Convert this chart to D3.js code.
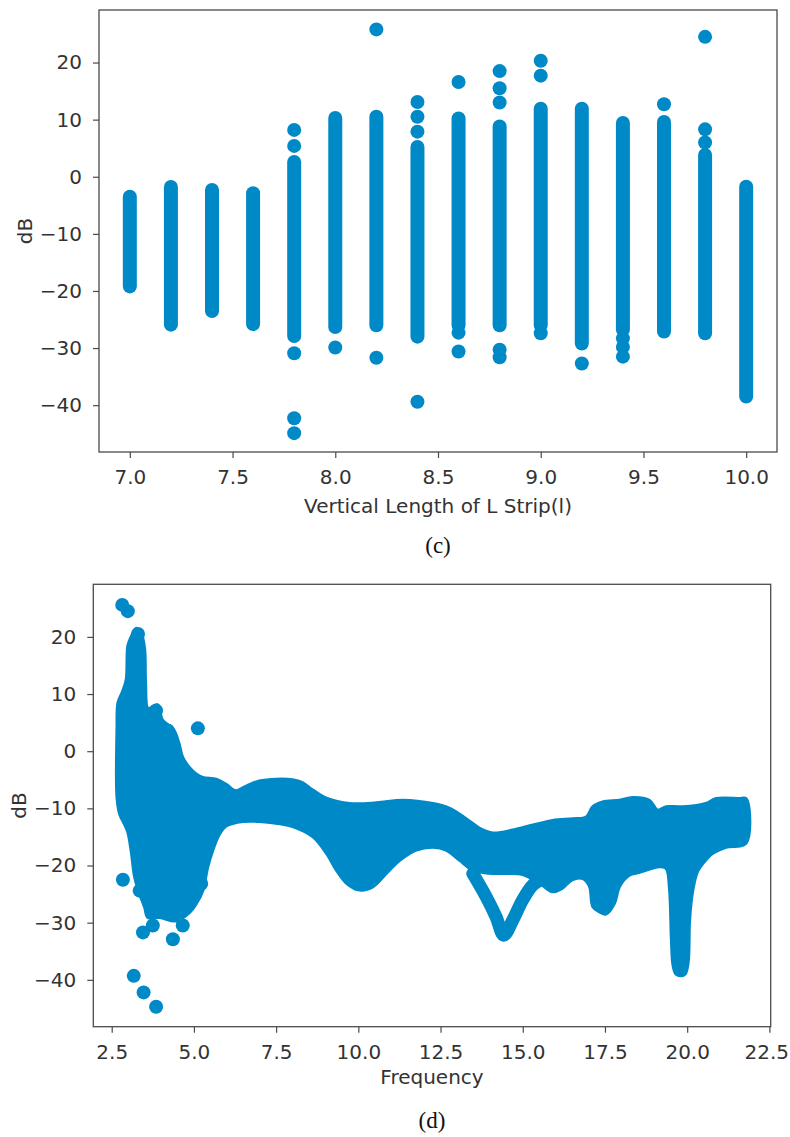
<!DOCTYPE html>
<html><head><meta charset="utf-8">
<script src="https://cdn.jsdelivr.net/npm/d3@7"></script>
<style>
body{margin:0;background:#fff;}
svg text{font-family:"DejaVu Sans",sans-serif;}
</style></head><body>
<svg id="chart" width="790" height="1137"></svg>
<script>
// ---------- (c) scatter: dB vs vertical length ----------
const lengths   = [7.0, 7.2, 7.4, 7.6, 7.8, 8.0, 8.2, 8.4, 8.6, 8.8, 9.0, 9.2, 9.4, 9.6, 9.8, 10.0];
const denseHigh = [-3.5, -1.8, -2.3, -2.9, 2.6, 10.3, 10.5, 5.2, 10.2, 8.8, 11.9, 11.9, 9.4, 9.6, 3.8, -1.75];
const denseLow  = [-19.2, -25.9, -23.5, -25.8, -27.9, -26.3, -26.0, -28.0, -26.0, -26.0, -26.0, -29.2, -26.8, -27.1, -27.4, -38.5];
const outLen = [7.8, 7.8, 7.8, 7.8, 7.8, 8.0, 8.2, 8.2, 8.4, 8.4, 8.4, 8.4, 8.6, 8.6, 8.6, 8.8, 8.8, 8.8, 8.8, 8.8, 9.0, 9.0, 9.0, 9.2, 9.4, 9.4, 9.4, 9.6, 9.8, 9.8, 9.8];
const outDB  = [8.2, 5.4, -30.9, -42.3, -44.9, -29.9, 25.8, -31.7, 13.1, 10.5, 7.9, -39.4, 16.6, -27.3, -30.6, 18.5, 15.5, 13.0, -30.3, -31.6, 20.3, 17.7, -27.4, -32.7, -28.3, -29.8, -31.5, 12.7, 24.5, 8.3, 6.0];
const xTicksC = [7.0, 7.5, 8.0, 8.5, 9.0, 9.5, 10.0];
const yTicks  = [-40, -30, -20, -10, 0, 10, 20];

// ---------- (d) scatter: dB vs frequency (dense cloud envelope + isolated points) ----------
const upF  = [2.66, 2.69, 2.82, 2.94, 2.99, 3.09, 3.25, 3.40, 3.50, 3.53, 3.60, 3.75, 3.90, 4.04, 4.21, 4.38, 4.54, 4.66, 4.87, 5.07, 5.27, 5.68, 5.98, 6.28, 6.59, 6.99, 7.50, 8.00, 8.30, 8.62, 9.03, 9.74, 10.55, 11.36, 12.27, 12.78, 13.28, 13.69, 14.09, 14.70, 15.31, 15.91, 16.52, 16.93, 17.13, 17.43, 17.94, 18.34, 18.85, 19.10, 19.36, 19.86, 20.57, 20.88, 21.58, 21.79];
const upDB = [4.0, 8.5, 10.3, 12.5, 18.5, 20.0, 21.5, 20.5, 18.0, 12.0, 7.5, 7.8, 8.1, 5.5, 4.6, 3.8, 1.5, -1.1, -2.9, -4.0, -4.6, -4.9, -5.8, -6.9, -6.1, -5.2, -4.9, -5.0, -5.5, -6.8, -8.2, -9.15, -9.03, -8.57, -9.15, -10.0, -11.8, -13.5, -14.3, -13.8, -12.9, -12.1, -11.8, -11.5, -9.7, -8.86, -8.57, -8.1, -8.57, -10.3, -9.7, -9.73, -9.15, -8.27, -8.27, -8.3];
const loF  = [2.66, 2.74, 2.89, 2.99, 3.09, 3.20, 3.35, 3.50, 3.60, 3.96, 4.46, 4.87, 5.07, 5.27, 5.42, 5.57, 5.78, 5.98, 6.49, 6.99, 7.50, 8.00, 8.62, 9.03, 9.33, 9.64, 10.04, 10.45, 10.85, 11.26, 11.76, 12.27, 12.67, 13.08, 13.48, 13.89, 14.40, 15.00, 15.40, 15.60, 15.90, 16.20, 16.50, 16.83, 17.03, 17.13, 17.33, 17.53, 17.79, 17.94, 18.24, 18.55, 19.15, 19.36, 19.46, 19.52, 19.57, 19.66, 19.81, 19.94, 20.03, 20.07, 20.12, 20.20, 20.32, 20.50, 20.77, 21.18, 21.79];
const loDB = [-8.1, -11.0, -12.8, -14.2, -17.4, -22.1, -25.0, -27.3, -29.1, -29.1, -29.7, -28.2, -26.7, -24.4, -20.3, -17.4, -14.5, -13.1, -12.3, -12.3, -12.6, -13.2, -15.0, -17.9, -20.8, -23.1, -24.3, -23.7, -21.4, -19.1, -17.3, -16.8, -17.3, -19.1, -20.8, -21.3, -21.4, -21.6, -22.8, -23.5, -24.6, -24.0, -22.5, -22.3, -23.7, -27.2, -28.1, -28.5, -26.6, -23.7, -21.7, -21.2, -20.2, -20.5, -24.0, -33.0, -37.5, -39.0, -39.3, -39.0, -37.0, -30.0, -26.5, -23.5, -21.0, -19.5, -17.9, -16.8, -16.1];
const vF  = [13.48, 13.89, 14.19, 14.42, 14.70, 15.00, 15.31, 15.61];
const vDB = [-21.4, -25.5, -29.0, -32.2, -29.5, -26.0, -23.4, -22.3];
const bOutF  = [2.82, 2.99, 3.30, 3.85, 4.21, 5.12, 2.84, 3.35, 3.45, 3.75, 4.36, 4.66, 5.22, 3.17, 3.47, 3.85];
const bOutDB = [25.6, 24.5, 20.5, 7.1, 3.6, 4.0, -22.5, -24.4, -31.7, -30.5, -32.9, -30.5, -23.2, -39.3, -42.2, -44.7];
const xTicksD = [2.5, 5.0, 7.5, 10.0, 12.5, 15.0, 17.5, 20.0, 22.5];

const C = "#0089c7", R = 7, FS = 20, TXT = "#333", SP = "#4a4a4a";
const svg = d3.select("#chart");

function frame(box, xDom, yDom, xTicks, xFmt, xLabel, caption, capY, labY) {
  const x = d3.scaleLinear().domain(xDom).range([box.l, box.r]);
  const y = d3.scaleLinear().domain(yDom).range([box.b, box.t]);
  const gx = svg.append("g").attr("transform", `translate(0,${box.b})`)
    .call(d3.axisBottom(x).tickValues(xTicks).tickFormat(xFmt).tickSize(6).tickSizeOuter(0).tickPadding(12));
  const gy = svg.append("g").attr("transform", `translate(${box.l},0)`)
    .call(d3.axisLeft(y).tickValues(yTicks).tickFormat(d => d < 0 ? "\u2212" + Math.abs(d) : d).tickSize(6).tickSizeOuter(0).tickPadding(11));
  [gx, gy].forEach(g => {
    g.select(".domain").remove();
    g.selectAll("line").attr("stroke", SP).attr("stroke-width", 1.2);
    g.selectAll("text").attr("fill", TXT).style("font-size", FS + "px").style("font-family", "DejaVu Sans");
  });
  // keep a label that would run past the page edge inside it
  gx.selectAll(".tick text").each(function () {
    const bb = this.getBBox(), t = this.parentNode.transform.baseVal.consolidate().matrix.e;
    if (t + bb.x + bb.width > 789) d3.select(this).attr("text-anchor", "end").attr("x", 789 - t);
  });
  svg.append("rect").attr("x", box.l).attr("y", box.t).attr("width", box.r - box.l).attr("height", box.b - box.t)
    .attr("fill", "none").attr("stroke", SP).attr("stroke-width", 1.3);
  svg.append("text").attr("x", (box.l + box.r) / 2).attr("y", labY).attr("text-anchor", "middle")
    .attr("fill", TXT).style("font-size", FS + "px").text(xLabel);
  svg.append("text").attr("transform", `translate(${box.yl},${(box.t + box.b) / 2}) rotate(-90)`)
    .attr("text-anchor", "middle").attr("fill", TXT).style("font-size", FS + "px").text("dB");
  svg.append("text").attr("x", (box.l + box.r) / 2).attr("y", capY).attr("text-anchor", "middle")
    .style("font-family", "Liberation Serif").style("font-size", "23px").attr("fill", "#111").text(caption);
  return {x, y};
}

// ----- chart (c)
const boxC = {l: 99, r: 777, t: 10, b: 452, yl: 32};
const sc = frame(boxC, [6.85, 10.15], [-48.2, 29.2], xTicksC, d3.format(".1f"),
  "Vertical Length of L Strip(l)", "(c)", 553, 513);
svg.append("g").selectAll("line").data(lengths).join("line")
  .attr("x1", d => sc.x(d)).attr("x2", d => sc.x(d))
  .attr("y1", (d, i) => sc.y(denseHigh[i])).attr("y2", (d, i) => sc.y(denseLow[i]))
  .attr("stroke", C).attr("stroke-width", 2 * R).attr("stroke-linecap", "round");
svg.append("g").selectAll("circle").data(outLen).join("circle")
  .attr("cx", d => sc.x(d)).attr("cy", (d, i) => sc.y(outDB[i])).attr("r", R).attr("fill", C);

// ----- chart (d)
const boxD = {l: 93.3, r: 770.7, t: 584.3, b: 1026.7, yl: 26};
const sd = frame(boxD, [1.94, 22.54], [-48.2, 29.2], xTicksD, d3.format(".1f"),
  "Frequency", "(d)", 1128, 1084);
const poly = upF.map((f, i) => [f, upDB[i]]).concat(loF.map((f, i) => [f, loDB[i]]).reverse());
svg.append("path").attr("d", d3.line().curve(d3.curveCatmullRomClosed.alpha(0.5)).x(d => sd.x(d[0])).y(d => sd.y(d[1]))(poly))
  .attr("fill", C).attr("stroke", C).attr("stroke-width", 3).attr("stroke-linejoin", "round");
svg.append("path").attr("d", d3.line().curve(d3.curveCatmullRom).x((d, i) => sd.x(d)).y((d, i) => sd.y(vDB[i]))(vF))
  .attr("fill", "none").attr("stroke", C).attr("stroke-width", 2 * R - 1).attr("stroke-linecap", "round").attr("stroke-linejoin", "round");
svg.append("g").selectAll("circle").data(bOutF).join("circle")
  .attr("cx", d => sd.x(d)).attr("cy", (d, i) => sd.y(bOutDB[i])).attr("r", R).attr("fill", C);
</script></body></html>
